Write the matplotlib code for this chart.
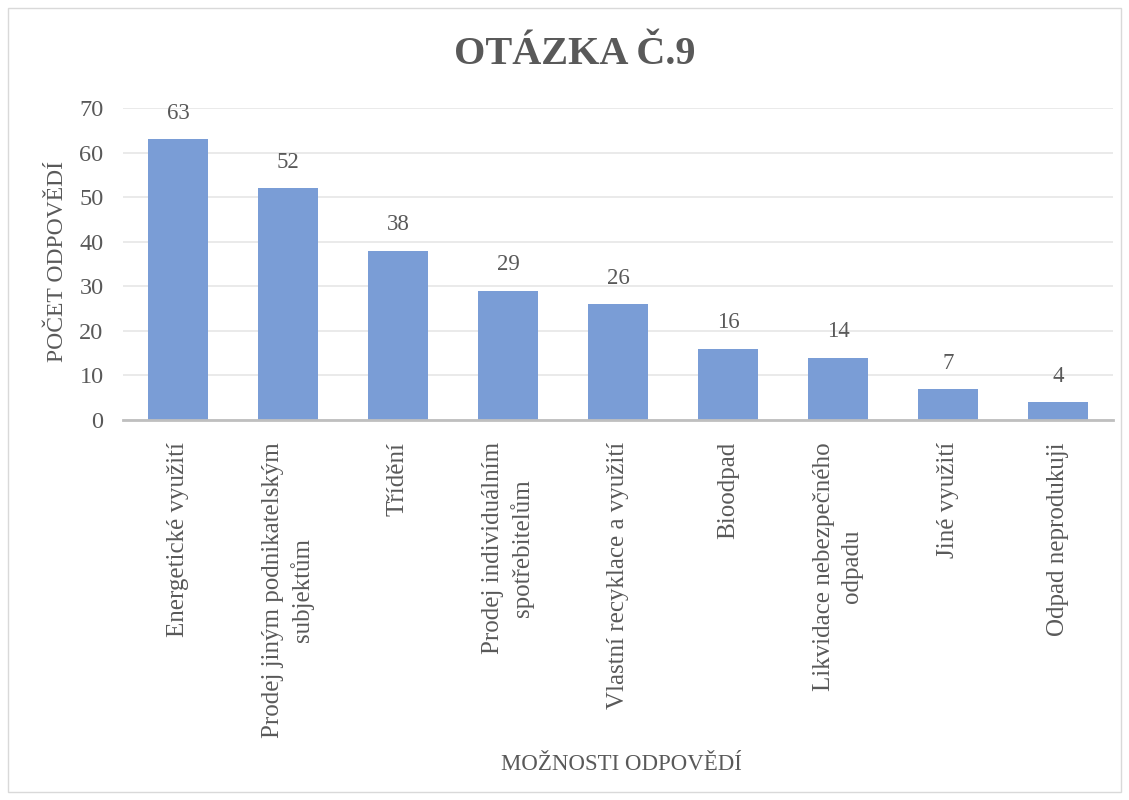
import matplotlib
matplotlib.use("Agg")
import matplotlib.pyplot as plt
from matplotlib.patches import Rectangle

categories = [
    "Energetické využití",
    "Prodej jiným podnikatelským\nsubjektům",
    "Třídění",
    "Prodej individuálním\nspotřebitelům",
    "Vlastní recyklace a využití",
    "Bioodpad",
    "Likvidace nebezpečného\nodpadu",
    "Jiné využití",
    "Odpad neprodukuji",
]
values = [63, 52, 38, 29, 26, 16, 14, 7, 4]
yticks = [0, 10, 20, 30, 40, 50, 60, 70]

TXT = "#595959"
BAR = "#7A9DD6"
plt.rcParams["font.family"] = ["Liberation Serif", "DejaVu Serif"]

fig = plt.figure(figsize=(11.29, 8.0), dpi=100)
fig.patches.append(Rectangle((8/1129, 8/800), 1113/1129, 784/800, transform=fig.transFigure,
                             fill=False, edgecolor="#D9D9D9", linewidth=1.0))
ax = fig.add_axes([123/1129, 1 - 420/800, 990/1129, 312/800])

x = list(range(len(categories)))
ax.bar(x, values, width=0.55, color=BAR, zorder=3)
for xi, v in zip(x, values):
    ax.annotate(str(v), (xi, v), xytext=(0, 11), textcoords="offset points",
                ha="center", va="bottom", fontsize=16.5, color=TXT)

ax.set_xlim(-0.5, len(categories) - 0.5)
ax.set_ylim(0, 70)
ax.set_yticks(yticks)
ax.set_yticklabels([str(t) for t in yticks], fontsize=17.5, color=TXT)
ax.set_xticks(x)
ax.set_xticklabels(categories, rotation=90, fontsize=18, color=TXT,
                   multialignment="center", linespacing=1.3)
ax.tick_params(axis="both", length=0)
ax.tick_params(axis="y", pad=14)
ax.tick_params(axis="x", pad=16)
ax.yaxis.grid(True, color="#E6E6E6", linewidth=1.2, zorder=0)
ax.set_axisbelow(True)
for s in ["top", "right", "left"]:
    ax.spines[s].set_visible(False)
ax.spines["bottom"].set_color("#BFBFBF")
ax.spines["bottom"].set_linewidth(2)
ax.spines["bottom"].set_zorder(4)

fig.text(0.5095, 1 - 55/800, "OTÁZKA Č.9", ha="center", va="center",
         fontsize=29, fontweight="bold", color=TXT)
fig.text(58/1129, 1 - 262/800, "POČET ODPOVĚDÍ", rotation=90, ha="center", va="center",
         fontsize=17, color=TXT)
fig.text(621/1129, 1 - 765/800, "MOŽNOSTI ODPOVĚDÍ", ha="center", va="center",
         fontsize=16.5, color=TXT)

fig.savefig("out.png", dpi=100)
